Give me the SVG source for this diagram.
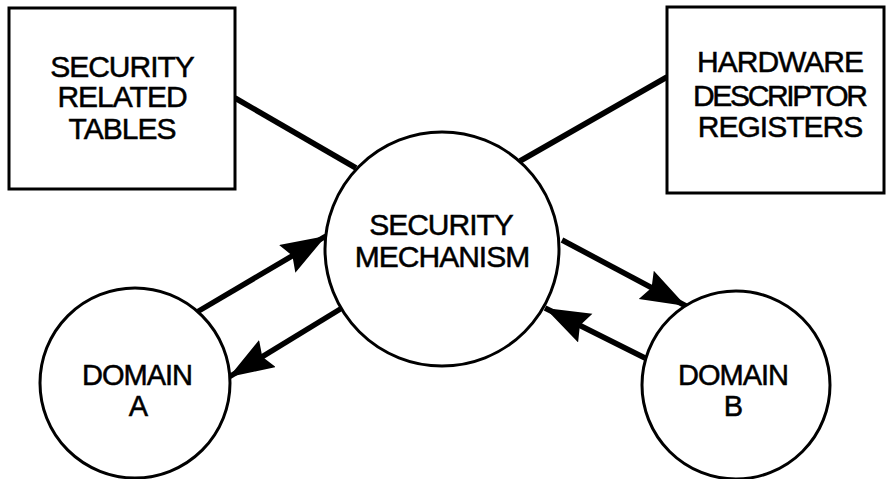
<svg xmlns="http://www.w3.org/2000/svg" width="886" height="479" viewBox="0 0 886 479">
  <style>
    .box { fill: #fff; stroke: #000; stroke-width: 3; }
    .node { fill: #fff; stroke: #000; stroke-width: 3; }
    .link { fill: none; stroke: #000; stroke-width: 5.5; stroke-linecap: butt; }
    .label { font-family: "Liberation Sans", Arial, sans-serif; font-size: 30px; letter-spacing: -1px; fill: #000; stroke: #000; stroke-width: 0.5; text-anchor: middle; }
    .small { font-size: 29px; }
  </style>
  <defs>
    <marker id="arrow" markerUnits="userSpaceOnUse" markerWidth="48" markerHeight="34" refX="45" refY="16" orient="auto">
      <path d="M0,0 L45,16 L0,32 L6,16 z" fill="#000"/>
    </marker>
  </defs>
  <rect width="886" height="479" fill="#fff"/>

  <g id="connectors">
    <line class="link" x1="235" y1="98" x2="356" y2="168"/>
    <line class="link" x1="520" y1="161" x2="667" y2="77"/>
    <line class="link" x1="197" y1="312" x2="326" y2="236" marker-end="url(#arrow)"/>
    <line class="link" x1="342" y1="308" x2="229" y2="377" marker-end="url(#arrow)"/>
    <line class="link" x1="562" y1="240" x2="686" y2="306" marker-end="url(#arrow)"/>
    <line class="link" x1="645" y1="358" x2="545" y2="308" marker-end="url(#arrow)"/>
  </g>

  <g id="security-related-tables">
    <rect class="box" x="9" y="8" width="226" height="181"/>
    <text class="label"><tspan x="122" y="77">SECURITY</tspan><tspan x="122" y="107">RELATED</tspan><tspan x="122" y="139">TABLES</tspan></text>
  </g>

  <g id="hardware-descriptor-registers">
    <rect class="box" x="667" y="7" width="217" height="186"/>
    <text class="label"><tspan x="780" y="72">HARDWARE</tspan><tspan x="780" y="106" textLength="174">DESCRIPTOR</tspan><tspan x="780" y="137">REGISTERS</tspan></text>
  </g>

  <g id="security-mechanism">
    <circle class="node" cx="442" cy="249" r="117"/>
    <text class="label"><tspan x="441" y="235">SECURITY</tspan><tspan x="442" y="267">MECHANISM</tspan></text>
  </g>

  <g id="domain-a">
    <circle class="node" cx="135" cy="383" r="95"/>
    <text class="label small"><tspan x="137" y="385">DOMAIN</tspan><tspan x="138" y="416">A</tspan></text>
  </g>

  <g id="domain-b">
    <circle class="node" cx="736" cy="385" r="94"/>
    <text class="label small"><tspan x="733" y="385">DOMAIN</tspan><tspan x="733" y="416">B</tspan></text>
  </g>
</svg>
